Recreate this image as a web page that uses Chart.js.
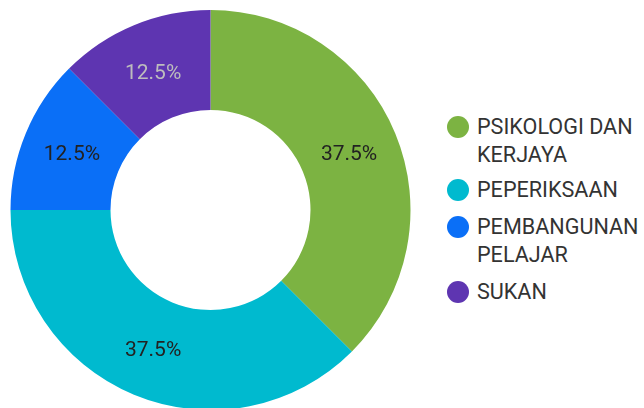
<!DOCTYPE html>
<html>
<head>
<meta charset="utf-8">
<script src="https://cdn.jsdelivr.net/npm/chart.js@4"></script>
<style>
    html, body { margin: 0; padding: 0; background: #fff; overflow: hidden; }
    #wrap { position: relative; width: 644px; height: 408px; overflow: hidden; }
    #chart-box { position: absolute; left: 0; top: 0; width: 421px; height: 420px; }
    .legend-item { position: absolute; left: 447px; display: flex; align-items: flex-start; }
    .legend-dot { width: 22px; height: 22px; border-radius: 50%; margin-top: 3px; flex: none; }
    .legend-text { margin-left: 8px; font-family: Roboto, sans-serif; font-size: 21.6px; line-height: 28px; color: #333; white-space: nowrap; }
</style>
</head>
<body>
<div id="wrap">
    <div id="chart-box"><canvas id="donut"></canvas></div>
    <div id="legend"></div>
</div>
<script>
const categories = [['PSIKOLOGI DAN', 'KERJAYA'], ['PEPERIKSAAN'], ['PEMBANGUNAN', 'PELAJAR'], ['SUKAN']];
const counts = [3, 3, 1, 1];
const percentLabels = ['37.5%', '37.5%', '12.5%', '12.5%'];
const sliceColors = ['#7cb342', '#00bacf', '#0a6ff7', '#5e35b1'];
const labelColors = ['#222', '#222', '#222', '#bdbdbd'];

// legend rows (top of each item)
const legendTops = [113, 176, 213, 278];

// draw the percentage in the middle of each slice
const sliceLabels = {
    id: 'sliceLabels',
    afterDatasetsDraw(chart) {
        const ctx = chart.ctx;
        const arcs = chart.getDatasetMeta(0).data;
        ctx.save();
        ctx.font = '21px Roboto, sans-serif';
        ctx.textAlign = 'center';
        ctx.textBaseline = 'middle';
        arcs.forEach((arc, i) => {
            const pos = arc.tooltipPosition();
            ctx.fillStyle = labelColors[i];
            ctx.fillText(percentLabels[i], pos.x, pos.y + 2);
        });
        ctx.restore();
    }
};

new Chart(document.getElementById('donut'), {
    type: 'doughnut',
    data: {
        labels: categories.map(c => c.join(' ')),
        datasets: [{
            data: counts,
            backgroundColor: sliceColors,
            borderWidth: 0,
            hoverOffset: 0,
            offset: 0
        }]
    },
    options: {
        responsive: true,
        maintainAspectRatio: false,
        animation: false,
        cutout: '50%',
        layout: { padding: 10 },
        plugins: {
            legend: { display: false },
            tooltip: { enabled: false }
        }
    },
    plugins: [sliceLabels]
});

const legend = document.getElementById('legend');
categories.forEach((lines, i) => {
    const item = document.createElement('div');
    item.className = 'legend-item';
    item.style.top = legendTops[i] + 'px';
    const dot = document.createElement('div');
    dot.className = 'legend-dot';
    dot.style.background = sliceColors[i];
    const text = document.createElement('div');
    text.className = 'legend-text';
    text.innerHTML = lines.join('<br>');
    item.appendChild(dot);
    item.appendChild(text);
    legend.appendChild(item);
});
</script>
</body>
</html>
